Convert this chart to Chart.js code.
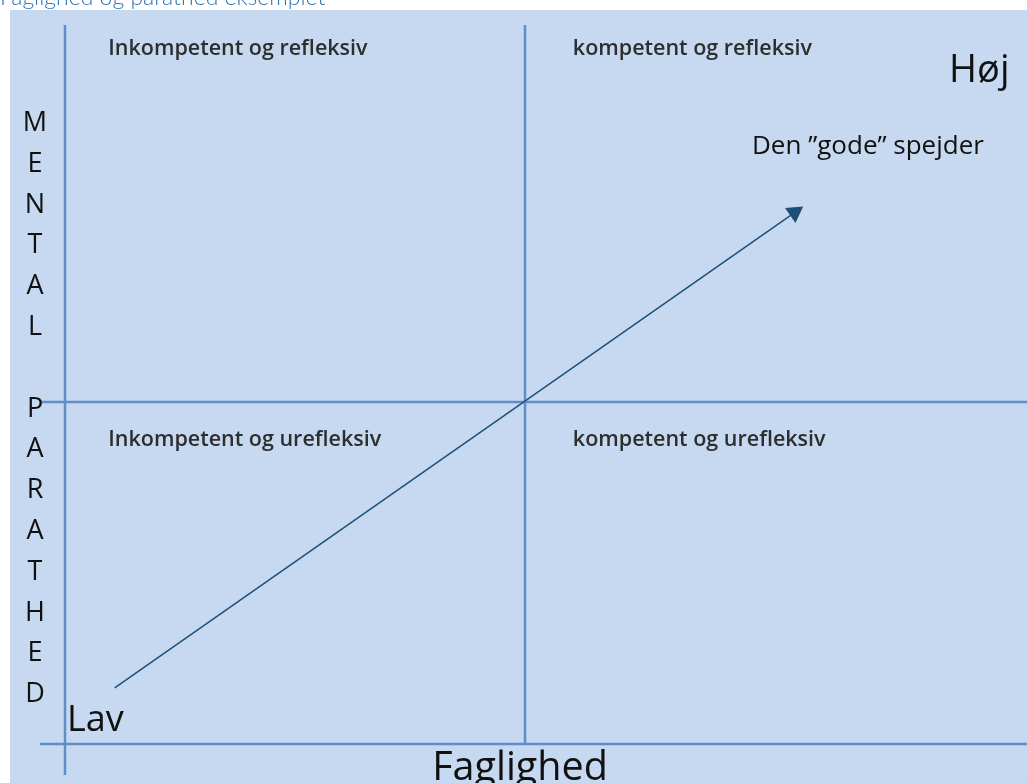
<!DOCTYPE html>
<html>
<head>
<meta charset="utf-8">
<script src="https://cdn.jsdelivr.net/npm/chart.js@4"></script>
<style>
  body { margin: 0; background: #fff; }
  #wrap { width: 1027px; height: 783px; }
</style>
</head>
<body>
<div id="wrap"><canvas id="matrix"></canvas></div>
<script>
// data
const title = "Faglighed og parathed eksemplet";
const xTitle = "Faglighed";
const yTitleLetters = "MENTAL PARATHED".split("");
const quadrantLabels = ["Inkompetent og refleksiv", "kompetent og refleksiv", "Inkompetent og urefleksiv", "kompetent og urefleksiv"];
const quadrantX = [0.47, 5.52, 0.47, 5.52];
const quadrantY = [10.07, 10.07, 4.36, 4.36];
const lowLabel = "Lav";
const highLabel = "Høj";
const goalLabel = "Den \u201Dgode\u201D spejder";
const arrowX = [0.54, 7.93];
const arrowY = [0.82, 7.77];
const midX = 5;
const midY = 5;

const lineBlue = "rgba(84,133,194,0.9)";

const backdrop = {
  id: "backdrop",
  beforeDraw(chart) {
    const ctx = chart.ctx;
    ctx.save();
    ctx.fillStyle = "#ffffff";
    ctx.fillRect(0, 0, chart.width, chart.height);
    ctx.fillStyle = "#c6d9f0";
    ctx.fillRect(10, 10, chart.width - 10, chart.height - 10);
    ctx.fillStyle = "#2e74b5";
    ctx.font = "300 23px Lato";
    ctx.textBaseline = "alphabetic";
    ctx.fillText(title, 0, 5);
    ctx.restore();
  },
  beforeDatasetsDraw(chart) {
    const ctx = chart.ctx;
    const x = chart.scales.x, y = chart.scales.y;
    ctx.save();
    ctx.strokeStyle = lineBlue;
    ctx.lineWidth = 2.5;
    ctx.beginPath();
    // y axis and bottom axis
    ctx.moveTo(x.getPixelForValue(0), 25);
    ctx.lineTo(x.getPixelForValue(0), 775);
    ctx.moveTo(40, y.getPixelForValue(0));
    ctx.lineTo(chart.width, y.getPixelForValue(0));
    // middle cross
    ctx.moveTo(x.getPixelForValue(midX), 25);
    ctx.lineTo(x.getPixelForValue(midX), y.getPixelForValue(0));
    ctx.moveTo(40, y.getPixelForValue(midY));
    ctx.lineTo(chart.width, y.getPixelForValue(midY));
    ctx.stroke();
    ctx.restore();
  },
  afterDraw(chart) {
    const ctx = chart.ctx;
    const x = chart.scales.x, y = chart.scales.y;
    ctx.save();
    ctx.textBaseline = "alphabetic";
    ctx.fillStyle = "#2e2e2e";
    ctx.font = "600 21.5px 'Open Sans'";
    quadrantLabels.forEach((t, i) => {
      ctx.fillText(t, x.getPixelForValue(quadrantX[i]), y.getPixelForValue(quadrantY[i]));
    });
    ctx.fillStyle = "#111";
    ctx.textAlign = "center";
    ctx.font = "27px 'Open Sans'";
    yTitleLetters.forEach((c, i) => {
      ctx.fillText(c, 35, 131 + i * 40.8);
    });
    ctx.textAlign = "left";
    ctx.font = "36px 'Open Sans'";
    ctx.fillText(lowLabel, 67, 731);
    ctx.font = "38px 'Open Sans'";
    ctx.fillText(highLabel, 949, 82);
    ctx.font = "26px 'Open Sans'";
    ctx.fillText(goalLabel, 752, 154);
    ctx.textAlign = "center";
    ctx.font = "39.5px 'Open Sans'";
    ctx.fillText(xTitle, 520, 780);
    ctx.restore();
  }
};

new Chart(document.getElementById("matrix"), {
  type: "scatter",
  data: {
    datasets: [{
      data: arrowX.map((v, i) => ({ x: v, y: arrowY[i] })),
      showLine: true,
      borderColor: "#1f4e79",
      backgroundColor: "#1f4e79",
      borderWidth: 1.5,
      pointStyle: "triangle",
      pointRadius: [0, 9],
      pointRotation: [0, 55],
      pointHoverRadius: [0, 9]
    }]
  },
  options: {
    responsive: true,
    maintainAspectRatio: false,
    animation: false,
    layout: { padding: { left: 65, right: 42, top: 60, bottom: 39 } },
    scales: {
      x: { display: false, min: 0, max: 10 },
      y: { display: false, min: 0, max: 10 }
    },
    plugins: {
      legend: { display: false },
      tooltip: { enabled: false }
    }
  },
  plugins: [backdrop]
});
</script>
</body>
</html>
